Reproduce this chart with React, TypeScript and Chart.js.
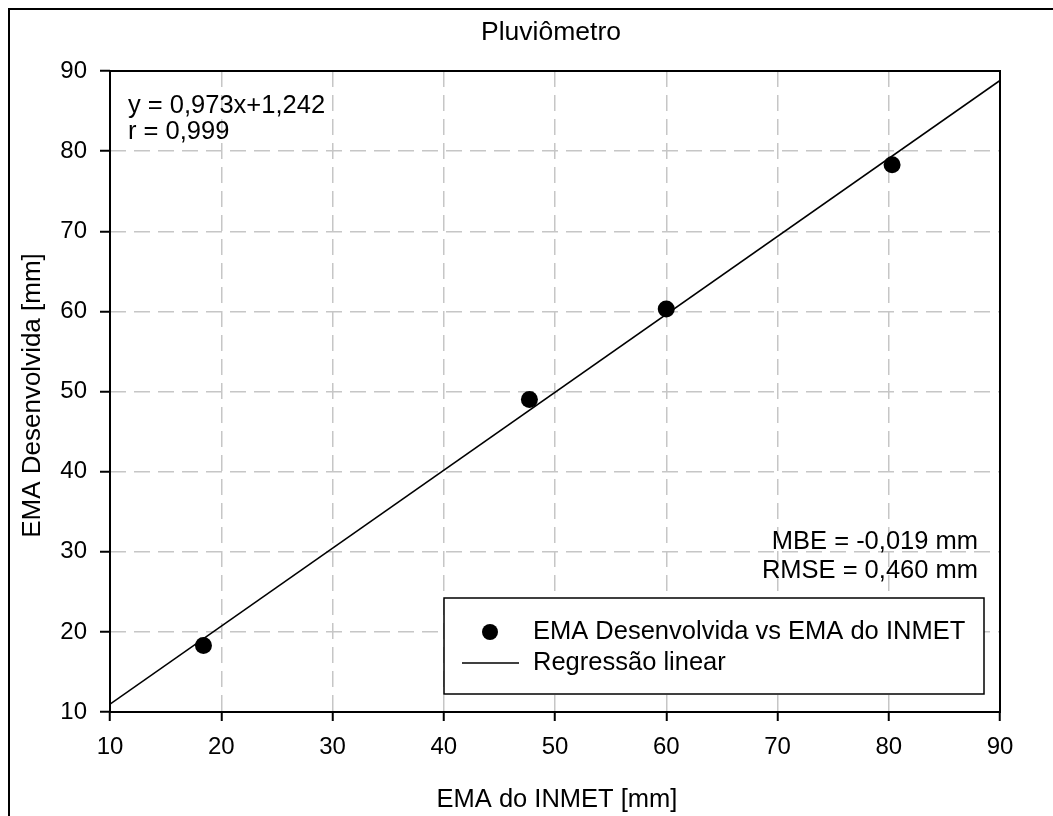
import { useEffect, useRef } from 'react';
import { Chart, registerables } from 'chart.js';

Chart.register(...registerables);

const chartTitle = 'Pluviômetro';
const xAxisTitle = 'EMA do INMET [mm]';
const yAxisTitle = 'EMA Desenvolvida [mm]';
const pointsLabel = 'EMA Desenvolvida vs EMA do INMET';
const lineLabel = 'Regressão linear';

const inmetValues = [18.4, 47.7, 60.0, 80.3];
const developedValues = [18.3, 49.0, 60.3, 78.3];

const regressionX = [10, 90];
const regressionY = [10.972, 88.812];

const axisMin = 10;
const axisMax = 90;
const tickStep = 10;

const equationLines = ['y = 0,973x+1,242', 'r = 0,999'];
const errorLines = ['MBE = -0,019 mm', 'RMSE = 0,460 mm'];

const FONT = '"Liberation Sans", Arial, Helvetica, sans-serif';
const FS = 24;
const FS_TEXT = 25.5;

const overlayPlugin = {
  id: 'overlay',
  afterDraw(chart: any) {
    const { ctx, chartArea } = chart;
    const { left, top, right, bottom } = chartArea;
    ctx.save();
    ctx.fillStyle = '#000';

    // plot frame
    ctx.strokeStyle = '#000';
    ctx.lineWidth = 2;
    ctx.strokeRect(left, top, right - left, bottom - top);

    // title
    ctx.textAlign = 'center';
    ctx.textBaseline = 'middle';
    ctx.font = `26.5px ${FONT}`;
    ctx.fillText(chartTitle, (left + right) / 2 - 4, top - 38);

    // x title
    ctx.font = `${FS_TEXT}px ${FONT}`;
    ctx.fillText(xAxisTitle, (left + right) / 2 + 2, bottom + 88);

    // y title
    ctx.save();
    ctx.font = `26px ${FONT}`;
    ctx.translate(left - 77, (top + bottom) / 2 + 4);
    ctx.rotate(-Math.PI / 2);
    ctx.fillText(yAxisTitle, 0, 0);
    ctx.restore();

    ctx.font = `${FS_TEXT}px ${FONT}`;
    // equation
    ctx.textAlign = 'left';
    equationLines.forEach((t, i) => ctx.fillText(t, left + 18, top + 35 + i * 26));

    // errors
    ctx.textAlign = 'right';
    errorLines.forEach((t, i) => ctx.fillText(t, right - 22, top + 471 + i * 29));

    // legend box
    const bx = left + 334;
    const by = top + 527;
    const bw = 540;
    const bh = 96;
    ctx.fillStyle = '#fff';
    ctx.fillRect(bx, by, bw, bh);
    ctx.strokeStyle = '#000';
    ctx.lineWidth = 1.5;
    ctx.strokeRect(bx, by, bw, bh);

    ctx.fillStyle = '#000';
    ctx.beginPath();
    ctx.arc(bx + 46, by + 34, 8, 0, Math.PI * 2);
    ctx.fill();

    ctx.beginPath();
    ctx.lineWidth = 1.5;
    ctx.moveTo(bx + 18, by + 65);
    ctx.lineTo(bx + 75, by + 65);
    ctx.stroke();

    ctx.textAlign = 'left';
    ctx.fillText(pointsLabel, bx + 89, by + 34);
    ctx.fillText(lineLabel, bx + 89, by + 65);

    ctx.restore();
  },
};

export default function App() {
  const canvasRef = useRef<HTMLCanvasElement | null>(null);

  useEffect(() => {
    if (!canvasRef.current) return;
    const tickColor = '#000';
    const gridColor = '#c6c6c6';
    const chart = new Chart(canvasRef.current, {
      type: 'scatter',
      data: {
        datasets: [
          {
            label: lineLabel,
            type: 'line',
            data: regressionX.map((x, i) => ({ x, y: regressionY[i] })),
            borderColor: '#000',
            borderWidth: 1.6,
            pointRadius: 0,
            fill: false,
            order: 1,
          } as any,
          {
            label: pointsLabel,
            data: inmetValues.map((x, i) => ({ x, y: developedValues[i] })),
            backgroundColor: '#000',
            borderColor: '#000',
            borderWidth: 0,
            pointRadius: 8.5,
            order: 0,
          },
        ],
      },
      options: {
        responsive: false,
        animation: false,
        layout: { padding: { left: 0, top: 71, right: 53, bottom: 0 } },
        plugins: {
          legend: { display: false },
          title: { display: false },
          tooltip: { enabled: false },
        },
        scales: {
          x: {
            type: 'linear',
            min: axisMin,
            max: axisMax,
            ticks: {
              stepSize: tickStep,
              color: tickColor,
              font: { family: FONT, size: FS },
              padding: 12,
              maxRotation: 0,
            },
            grid: {
              color: gridColor,
              lineWidth: 1.5,
              tickColor: '#000',
              tickLength: 9,
              tickWidth: 2,
            },
            border: { display: false, dash: [16, 8] },
            afterFit: (scale: any) => {
              scale.height = 104;
            },
          },
          y: {
            type: 'linear',
            min: axisMin,
            max: axisMax,
            ticks: {
              stepSize: tickStep,
              color: tickColor,
              font: { family: FONT, size: FS },
              padding: 13,
            },
            grid: {
              color: gridColor,
              lineWidth: 1.5,
              tickColor: '#000',
              tickLength: 10,
              tickWidth: 2,
            },
            border: { display: false, dash: [16, 8] },
            afterFit: (scale: any) => {
              scale.width = 110;
            },
          },
        },
      },
      plugins: [overlayPlugin],
    });
    return () => chart.destroy();
  }, []);

  return (
    <>
      <div
        style={{
          position: 'fixed',
          left: 8,
          top: 8,
          width: 1100,
          height: 900,
          borderLeft: '2px solid #000',
          borderTop: '2px solid #000',
          boxSizing: 'border-box',
        }}
      />
      <canvas
        ref={canvasRef}
        width={1053}
        height={816}
        style={{ position: 'fixed', left: 0, top: 0, display: 'block' }}
      />
    </>
  );
}
